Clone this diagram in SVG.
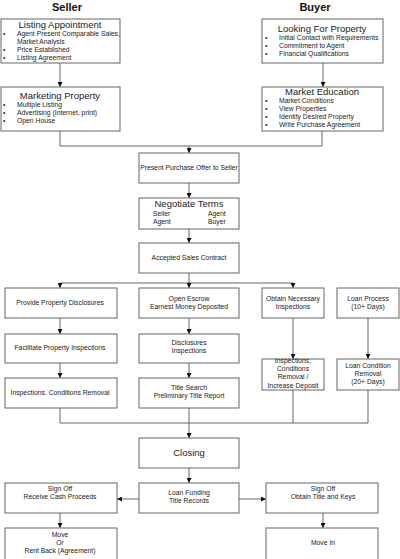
<svg xmlns="http://www.w3.org/2000/svg" width="400" height="559" viewBox="0 0 400 559">
<defs>
<marker id="ah" markerWidth="5" markerHeight="5" refX="5" refY="2.5" orient="auto" markerUnits="userSpaceOnUse"><path d="M0,0 L5,2.5 L0,5 Z" fill="#111"/></marker>
<style>
.b{fill:#fff;stroke:#666;stroke-width:1}
.c{fill:none;stroke:#666;stroke-width:1}
.a{fill:none;stroke:#666;stroke-width:1;marker-end:url(#ah)}
text{font-family:"Liberation Sans",Arial,sans-serif;fill:#222}
.t{font-size:11px;font-weight:bold;text-anchor:middle;fill:#111}
.h{font-size:9.5px;text-anchor:middle}
.s{font-size:6.8px}
.m{font-size:6.8px;text-anchor:middle}
</style>
</defs>
<rect width="400" height="559" fill="#fff"/>
<text class="t" x="67" y="11">Seller</text>
<text class="t" x="315" y="11">Buyer</text>

<g id="connectors">
<line class="a" x1="60" y1="63" x2="60" y2="87"/>
<line class="a" x1="323" y1="63" x2="323" y2="87"/>
<polyline class="c" points="60,131 60,146 322,146 322,131"/>
<line class="a" x1="189" y1="146" x2="189" y2="153"/>
<line class="a" x1="189" y1="183" x2="189" y2="198"/>
<line class="a" x1="189" y1="229" x2="189" y2="243"/>
<line class="c" x1="189" y1="273" x2="189" y2="283"/>
<line class="c" x1="60" y1="283" x2="293" y2="283"/>
<line class="a" x1="60" y1="283" x2="60" y2="288"/>
<line class="a" x1="189" y1="283" x2="189" y2="288"/>
<line class="a" x1="293" y1="283" x2="293" y2="288"/>
<line class="a" x1="60" y1="318" x2="60" y2="334"/>
<line class="a" x1="60" y1="363" x2="60" y2="378"/>
<line class="a" x1="189" y1="318" x2="189" y2="334"/>
<line class="a" x1="189" y1="363" x2="189" y2="378"/>
<line class="a" x1="293" y1="318" x2="293" y2="359"/>
<line class="a" x1="368" y1="318" x2="368" y2="359"/>
<polyline class="c" points="60,408 60,423 368,423 368,390"/>
<line class="c" x1="293" y1="390" x2="293" y2="423"/>
<line class="a" x1="189" y1="408" x2="189" y2="438"/>
<line class="a" x1="189" y1="468" x2="189" y2="483"/>
<line class="a" x1="139" y1="499" x2="117" y2="499"/>
<line class="a" x1="239" y1="499" x2="266" y2="499"/>
<line class="a" x1="60" y1="513" x2="60" y2="528"/>
<line class="a" x1="323" y1="513" x2="323" y2="528"/>
</g>

<g id="listing">
<rect class="b" x="1" y="19" width="119" height="44"/>
<text class="h" x="60" y="28">Listing Appointment</text>
<text class="s" x="3" y="36">•</text><text class="s" x="17" y="36">Agent Present Comparable Sales,</text>
<text class="s" x="17" y="44">Market Analysis</text>
<text class="s" x="3" y="52">•</text><text class="s" x="17" y="52">Price Established</text>
<text class="s" x="3" y="60">•</text><text class="s" x="17" y="60">Listing Agreement</text>
</g>
<g id="marketing">
<rect class="b" x="1" y="87" width="119" height="44"/>
<text class="h" x="60" y="99">Marketing Property</text>
<text class="s" x="3" y="107">•</text><text class="s" x="17" y="107">Multiple Listing</text>
<text class="s" x="3" y="115">•</text><text class="s" x="17" y="115">Advertising (Internet, print)</text>
<text class="s" x="3" y="123">•</text><text class="s" x="17" y="123">Open House</text>
</g>
<g id="looking">
<rect class="b" x="262" y="19" width="121" height="44"/>
<text class="h" x="322" y="32">Looking For Property</text>
<text class="s" x="265" y="40">•</text><text class="s" x="279" y="40">Initial Contact with Requirements</text>
<text class="s" x="265" y="48">•</text><text class="s" x="279" y="48">Commitment to Agent</text>
<text class="s" x="265" y="56">•</text><text class="s" x="279" y="56">Financial Qualifications</text>
</g>
<g id="education">
<rect class="b" x="262" y="87" width="121" height="44"/>
<text class="h" x="322" y="95">Market Education</text>
<text class="s" x="265" y="103">•</text><text class="s" x="279" y="103">Market Conditions</text>
<text class="s" x="265" y="111">•</text><text class="s" x="279" y="111">View Properties</text>
<text class="s" x="265" y="119">•</text><text class="s" x="279" y="119">Identify Desired Property</text>
<text class="s" x="265" y="127">•</text><text class="s" x="279" y="127">Write Purchase Agreement</text>
</g>
<g id="offer">
<rect class="b" x="139" y="153" width="100" height="30"/>
<text class="m" x="189" y="170">Present Purchase Offer to Seller</text>
</g>
<g id="negotiate">
<rect class="b" x="139" y="198" width="100" height="31"/>
<text class="h" x="189" y="207">Negotiate Terms</text>
<text class="s" x="153" y="216">Seller</text><text class="s" x="208" y="216">Agent</text>
<text class="s" x="153" y="224">Agent</text><text class="s" x="208" y="224">Buyer</text>
</g>
<g id="accepted">
<rect class="b" x="139" y="243" width="100" height="30"/>
<text class="m" x="189" y="260">Accepted Sales Contract</text>
</g>
<g id="provide">
<rect class="b" x="5" y="288" width="112" height="30"/>
<text class="m" x="60" y="305">Provide Property Disclosures</text>
</g>
<g id="facilitate">
<rect class="b" x="5" y="334" width="112" height="29"/>
<text class="m" x="60" y="350">Facilitate Property Inspections</text>
</g>
<g id="inspremoval">
<rect class="b" x="5" y="378" width="112" height="30"/>
<text class="m" x="60" y="395">Inspections. Conditions Removal</text>
</g>
<g id="escrow">
<rect class="b" x="139" y="288" width="100" height="30"/>
<text class="m" x="189" y="301">Open Escrow</text>
<text class="m" x="189" y="309">Earnest Money Deposited</text>
</g>
<g id="disclosures">
<rect class="b" x="139" y="334" width="100" height="29"/>
<text class="m" x="189" y="345">Disclosures</text>
<text class="m" x="189" y="353">Inspections</text>
</g>
<g id="title">
<rect class="b" x="139" y="378" width="100" height="30"/>
<text class="m" x="189" y="390">Title Search</text>
<text class="m" x="189" y="398">Preliminary Title Report</text>
</g>
<g id="obtain">
<rect class="b" x="262" y="288" width="62" height="30"/>
<text class="m" x="293" y="301">Obtain Necessary</text>
<text class="m" x="293" y="309">Inspections</text>
</g>
<g id="loanprocess">
<rect class="b" x="337" y="288" width="62" height="30"/>
<text class="m" x="368" y="301">Loan Process</text>
<text class="m" x="368" y="309">(10+ Days)</text>
</g>
<g id="inspcond">
<rect class="b" x="262" y="359" width="62" height="31"/>
<text class="m" x="293" y="363">Inspections,</text>
<text class="m" x="293" y="371">Conditions</text>
<text class="m" x="293" y="379">Removal /</text>
<text class="m" x="293" y="388">Increase Deposit</text>
</g>
<g id="loancond">
<rect class="b" x="337" y="359" width="62" height="31"/>
<text class="m" x="368" y="368">Loan Condition</text>
<text class="m" x="368" y="376">Removal</text>
<text class="m" x="368" y="384">(20+ Days)</text>
</g>
<g id="closing">
<rect class="b" x="139" y="438" width="100" height="30"/>
<text class="h" x="189" y="456">Closing</text>
</g>
<g id="funding">
<rect class="b" x="139" y="483" width="100" height="30"/>
<text class="m" x="189" y="495">Loan Funding</text>
<text class="m" x="189" y="503">Title Records</text>
</g>
<g id="signseller">
<rect class="b" x="5" y="483" width="112" height="30"/>
<text class="m" x="60" y="491">Sign Off</text>
<text class="m" x="60" y="499">Receive Cash Proceeds</text>
</g>
<g id="signbuyer">
<rect class="b" x="266" y="483" width="112" height="30"/>
<text class="m" x="323" y="491">Sign Off</text>
<text class="m" x="323" y="499">Obtain Title and Keys</text>
</g>
<g id="move">
<rect class="b" x="5" y="528" width="112" height="34"/>
<text class="m" x="60" y="537">Move</text>
<text class="m" x="60" y="545">Or</text>
<text class="m" x="60" y="553">Rent Back (Agreement)</text>
</g>
<g id="movein">
<rect class="b" x="266" y="528" width="112" height="34"/>
<text class="m" x="323" y="545">Move In</text>
</g>
</svg>
